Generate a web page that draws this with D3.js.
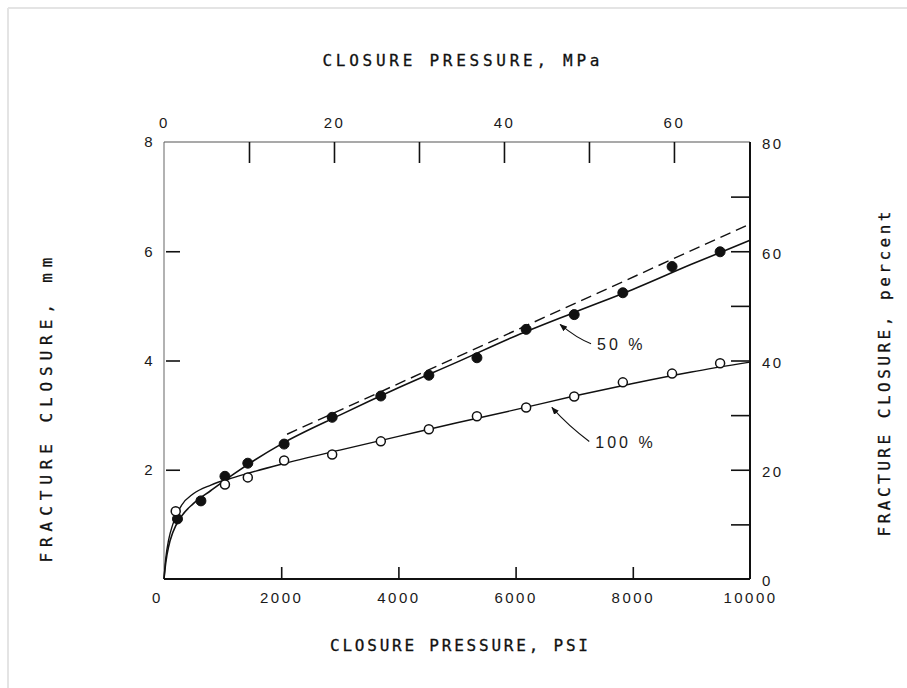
<!DOCTYPE html>
<html lang="en">
<head>
    <meta charset="UTF-8"/>
    <title>fracture closure</title>
    <script src="https://d3js.org/d3.v7.min.js"></script>
    <style type="text/css">
        body { margin: 0; background: #fff; }
        text {
            font-family: "Liberation Sans", Arial, sans-serif;
            fill: #1a1a1a;
        }
        .tick text { font-size: 15px; letter-spacing: 2.5px; }
        .tick line { stroke: #111; stroke-width: 1.6px; }
        .title { font-family: "DejaVu Sans Mono", monospace; font-size: 16px; fill: #111; stroke: #111; stroke-width: 0.3px; }
    </style>
</head>
<body>
<div id="my_dataviz"></div>
<script>

// 50 % sample: measured points (psi, mm)
var psi50 = [230, 630, 1040, 1430, 2050, 2870, 3700, 4520, 5340, 6180, 7000, 7830, 8670, 9490];
var mm50  = [1.10, 1.43, 1.88, 2.12, 2.47, 2.96, 3.35, 3.73, 4.05, 4.57, 4.84, 5.24, 5.72, 5.99];

// 100 % sample: measured points
var psi100 = [200, 1040, 1430, 2050, 2870, 3700, 4520, 5340, 6180, 7000, 7830, 8670, 9490];
var mm100  = [1.24, 1.73, 1.86, 2.17, 2.28, 2.52, 2.74, 2.98, 3.14, 3.34, 3.60, 3.76, 3.95];

// hand-drawn fit curves
var curvePsi   = [0, 30, 80, 150, 300, 500, 800, 1200, 2000, 3000, 4000, 5000, 6000, 7000, 8000, 9000, 10000];
var curve50mm  = [0, 0.30, 0.60, 0.85, 1.15, 1.38, 1.62, 1.93, 2.47, 3.00, 3.50, 3.97, 4.45, 4.88, 5.30, 5.76, 6.20];
var curve100mm = [0, 0.38, 0.72, 1.00, 1.35, 1.56, 1.72, 1.86, 2.10, 2.36, 2.61, 2.86, 3.10, 3.35, 3.58, 3.79, 3.97];

// dashed straight line (50 %)
var dashPsi = [2100, 10000];
var dashMm  = [2.65, 6.50];

// axis ticks
var psiTicks   = [0, 2000, 4000, 6000, 8000, 10000];
var mmTicks    = [2, 4, 6, 8];
var mpaTicks   = [0, 10, 20, 30, 40, 50, 60];
var mpaLabels  = [0, 20, 40, 60];
var pctTicks   = [0, 10, 20, 30, 40, 50, 60, 70, 80];
var pctLabels  = [0, 20, 40, 60, 80];

// curve labels: [psi, mm] of arrow tip, bend, text
var labels = [
    {text: "50 %",  tip: [6760, 4.66], mid: [7050, 4.40], at: [7390, 4.29]},
    {text: "100 %", tip: [6620, 3.14], mid: [6900, 2.80], at: [7360, 2.50]}
];

var W = 907, H = 688;
var svg = d3.select("#my_dataviz")
  .append("svg")
    .attr("width", W)
    .attr("height", H);

// light outer frame of the scan
svg.append("line").attr("x1", 8).attr("x2", W).attr("y1", 8).attr("y2", 8)
    .attr("stroke", "#e4e4e4").attr("stroke-width", 2);
svg.append("line").attr("x1", 8).attr("x2", 8).attr("y1", 8).attr("y2", H)
    .attr("stroke", "#e4e4e4").attr("stroke-width", 2);

var x = d3.scaleLinear().domain([0, 10000]).range([164, 750]);
var y = d3.scaleLinear().domain([0, 8]).range([579, 142]);
var xMpa = d3.scaleLinear().domain([0, 10000 / 145.038]).range([164, 750]);
var yPct = d3.scaleLinear().domain([0, 80]).range([579, 142]);

// frame
svg.append("line").attr("x1", x(0)).attr("x2", x(0)).attr("y1", y(0)).attr("y2", y(8))
    .attr("stroke", "#999").attr("stroke-width", 1.5);
svg.append("line").attr("x1", x(0)).attr("x2", x(10000)).attr("y1", y(8)).attr("y2", y(8))
    .attr("stroke", "#555").attr("stroke-width", 1.2);
svg.append("line").attr("x1", x(10000)).attr("x2", x(10000)).attr("y1", y(0)).attr("y2", y(8))
    .attr("stroke", "#111").attr("stroke-width", 2);
svg.append("line").attr("x1", x(0)).attr("x2", x(10000)).attr("y1", y(0)).attr("y2", y(0))
    .attr("stroke", "#111").attr("stroke-width", 1.8);

// bottom axis (psi)
var gB = svg.append("g")
  .attr("transform", "translate(0," + y(0) + ")")
  .call(d3.axisBottom(x).tickValues(psiTicks).tickSize(-12).tickPadding(10).tickFormat(d3.format("d")));
gB.selectAll("text").attr("dy", "0.9em");
gB.selectAll(".tick").filter(function(d) { return d == 0 || d == 10000; }).select("line").remove();
gB.selectAll(".tick").filter(function(d) { return d == 0; }).select("text").attr("dx", -7);

// left axis (mm)
var gL = svg.append("g")
  .attr("transform", "translate(" + x(0) + ",0)")
  .call(d3.axisLeft(y).tickValues(mmTicks).tickSize(-14).tickPadding(9));
gL.selectAll(".tick").filter(function(d) { return d == 8; }).select("line").remove();
gL.selectAll(".tick line").attr("transform", "translate(2,0)");

// top axis (MPa)
var gT = svg.append("g")
  .attr("transform", "translate(0," + y(8) + ")")
  .call(d3.axisTop(xMpa).tickValues(mpaTicks).tickSize(-21).tickPadding(14)
        .tickFormat(function(d) { return mpaLabels.indexOf(d) >= 0 ? d : ""; }));
gT.selectAll(".tick").filter(function(d) { return d == 0; }).select("line").remove();

// right axis (percent)
var gR = svg.append("g")
  .attr("transform", "translate(" + x(10000) + ",0)")
  .call(d3.axisRight(yPct).tickValues(pctTicks).tickSize(-19).tickPadding(12)
        .tickFormat(function(d) { return pctLabels.indexOf(d) >= 0 ? d : ""; }));
gR.selectAll(".tick").filter(function(d) { return d == 0 || d == 80; }).select("line").remove();
gR.selectAll("text").attr("dy", "0.45em");

svg.selectAll(".domain").remove();

// curves
var line = d3.line()
    .x(function(d) { return x(d[0]); })
    .y(function(d) { return y(d[1]); })
    .curve(d3.curveMonotoneX);

svg.append("path")
    .datum(curvePsi.map(function(p, i) { return [p, curve50mm[i]]; }))
    .attr("d", line)
    .attr("fill", "none").attr("stroke", "#111").attr("stroke-width", 1.6);

svg.append("path")
    .datum(curvePsi.map(function(p, i) { return [p, curve100mm[i]]; }))
    .attr("d", line)
    .attr("fill", "none").attr("stroke", "#111").attr("stroke-width", 1.4);

svg.append("path")
    .datum(dashPsi.map(function(p, i) { return [p, dashMm[i]]; }))
    .attr("d", line)
    .attr("fill", "none").attr("stroke", "#111").attr("stroke-width", 1.4)
    .attr("stroke-dasharray", "11,6");

// points
svg.selectAll("mycircle50")
  .data(psi50.map(function(p, i) { return [p, mm50[i]]; }))
  .enter()
  .append("circle")
    .attr("cx", function(d) { return x(d[0]); })
    .attr("cy", function(d) { return y(d[1]); })
    .attr("r", 5)
    .style("fill", "#111")
    .attr("stroke", "#111");

svg.selectAll("mycircle100")
  .data(psi100.map(function(p, i) { return [p, mm100[i]]; }))
  .enter()
  .append("circle")
    .attr("cx", function(d) { return x(d[0]); })
    .attr("cy", function(d) { return y(d[1]); })
    .attr("r", 4.5)
    .style("fill", "#fff")
    .attr("stroke", "#111")
    .attr("stroke-width", 1.5);

// leaders with arrow heads
svg.append("defs").append("marker")
    .attr("id", "arr")
    .attr("viewBox", "0 0 10 10")
    .attr("refX", 9).attr("refY", 5)
    .attr("markerWidth", 7).attr("markerHeight", 7)
    .attr("orient", "auto-start-reverse")
  .append("path")
    .attr("d", "M0,1 L10,5 L0,9 Z")
    .attr("fill", "#111");

labels.forEach(function(l) {
  var p = d3.path();
  p.moveTo(x(l.at[0]) - 6, y(l.at[1]) - 1);
  p.quadraticCurveTo(x(l.mid[0]), y(l.mid[1]), x(l.tip[0]), y(l.tip[1]));
  svg.append("path")
    .attr("d", p.toString())
    .attr("fill", "none").attr("stroke", "#111").attr("stroke-width", 1.1)
    .attr("marker-end", "url(#arr)");
  svg.append("text")
    .attr("x", x(l.at[0]))
    .attr("y", y(l.at[1]))
    .attr("dy", "0.35em")
    .style("font-size", "16px")
    .style("letter-spacing", "3px")
    .text(l.text);
});

// titles
svg.append("text").attr("class", "title")
    .attr("x", 461).attr("y", 66).attr("text-anchor", "middle")
    .attr("textLength", 277).attr("lengthAdjust", "spacing")
    .text("CLOSURE PRESSURE, MPa");
svg.append("text").attr("class", "title")
    .attr("x", 459).attr("y", 651).attr("text-anchor", "middle")
    .attr("textLength", 258).attr("lengthAdjust", "spacing")
    .text("CLOSURE PRESSURE, PSI");
svg.append("text").attr("class", "title")
    .attr("transform", "translate(52,410)rotate(-90)").attr("text-anchor", "middle")
    .attr("textLength", 305).attr("lengthAdjust", "spacing")
    .text("FRACTURE CLOSURE, mm");
svg.append("text").attr("class", "title")
    .attr("transform", "translate(890,374)rotate(-90)").attr("text-anchor", "middle")
    .attr("textLength", 325).attr("lengthAdjust", "spacing")
    .text("FRACTURE CLOSURE, percent");

</script>
</body>
</html>
